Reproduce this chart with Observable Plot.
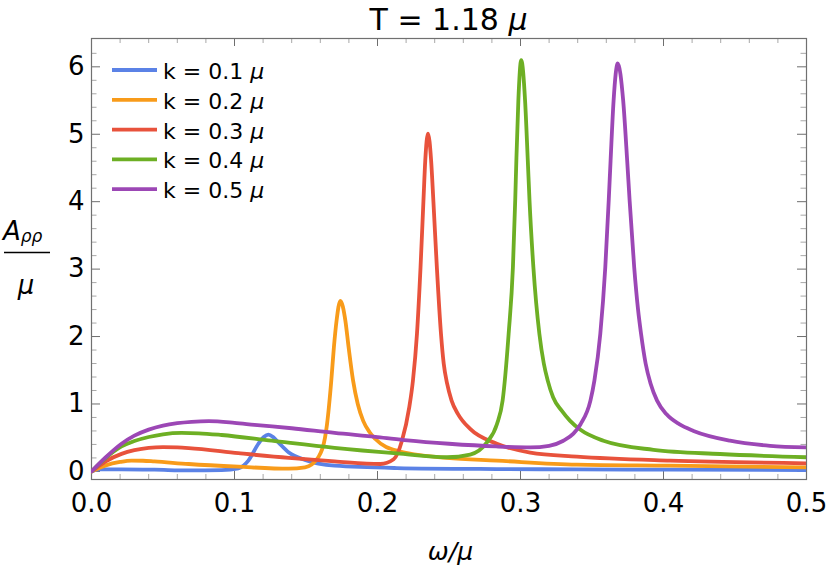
<!DOCTYPE html>
<html>
<head>
<meta charset="utf-8">
<script src="https://cdn.jsdelivr.net/npm/d3@7"></script>
<script src="https://cdn.jsdelivr.net/npm/@observablehq/plot@0.6"></script>
<style>
  html, body { margin: 0; padding: 0; background: #fff; }
  #chart { position: relative; width: 830px; height: 569px; }
  svg { font-family: "DejaVu Sans", sans-serif; }
</style>
</head>
<body>
<div id="chart"></div>
<script>
// ---- Data ----
const labels = ["k = 0.1", "k = 0.2", "k = 0.3", "k = 0.4", "k = 0.5"];
const colors = ["#5B82E6", "#F89B1A", "#E8523C", "#6DAF24", "#9C47B5"];

const k01 = [[0,0],[0.005,0.03],[0.021,0.03],[0.044,0.025],[0.068,0.015],[0.091,0.02],[0.1027,0.045],
  [0.1097,0.16],[0.1167,0.41],[0.1205,0.51],[0.1237,0.545],[0.127,0.51],[0.1307,0.43],[0.138,0.28],
  [0.1493,0.17],[0.17,0.085],[0.2136,0.05],[0.2835,0.035],[0.3394,0.03],[0.4046,0.025],[0.5,0.02]];

const k02 = [[0,0],[0.01,0.09],[0.02,0.14],[0.028,0.16],[0.036,0.158],[0.044,0.148],[0.068,0.11],
  [0.1027,0.07],[0.138,0.04],[0.1493,0.06],[0.1586,0.21],[0.1633,0.5],[0.1647,0.7],[0.1677,1.35],
  [0.1695,1.84],[0.1714,2.24],[0.174,2.53],[0.1775,2.24],[0.1798,1.84],[0.1829,1.35],[0.1862,1.0],
  [0.19,0.75],[0.1945,0.58],[0.1985,0.48],[0.2136,0.307],[0.2486,0.20],[0.2835,0.16],[0.3394,0.10],
  [0.4046,0.085],[0.5,0.06]];

const k03 = [[0,0],[0.01,0.15],[0.021,0.26],[0.03,0.315],[0.04,0.35],[0.05,0.36],[0.06,0.355],
  [0.068,0.345],[0.1027,0.27],[0.138,0.20],[0.17,0.15],[0.202,0.11],[0.2113,0.18],[0.2171,0.455],
  [0.2222,0.95],[0.2248,1.35],[0.2276,2.04],[0.2301,3.03],[0.2321,4.0],[0.2334,4.61],[0.2353,5.01],
  [0.2375,4.61],[0.2391,4.0],[0.2415,3.03],[0.2444,2.04],[0.2463,1.6],[0.2487,1.3],[0.2518,1.05],
  [0.2563,0.85],[0.2648,0.63],[0.2835,0.41],[0.3068,0.28],[0.3394,0.22],[0.4046,0.16],[0.5,0.12]];

const k04 = [[0,0],[0.01,0.2],[0.021,0.37],[0.03,0.45],[0.04,0.51],[0.05,0.55],[0.063,0.57],
  [0.075,0.565],[0.091,0.54],[0.126,0.455],[0.17,0.35],[0.2136,0.267],[0.2486,0.21],[0.2648,0.25],
  [0.2765,0.43],[0.2835,0.70],[0.2875,1.05],[0.2917,2.04],[0.2947,3.03],[0.2963,4.02],[0.2971,4.61],
  [0.2985,5.5],[0.3005,6.1],[0.3032,5.5],[0.3051,4.61],[0.3063,4.02],[0.309,3.03],[0.3132,2.04],
  [0.3163,1.6],[0.319,1.35],[0.3228,1.1],[0.3288,0.9],[0.3347,0.75],[0.3417,0.62],[0.358,0.455],
  [0.393,0.32],[0.4396,0.258],[0.5,0.21]];

const k05 = [[0,0],[0.01,0.21],[0.021,0.41],[0.03,0.53],[0.04,0.62],[0.05,0.68],[0.06,0.715],
  [0.07,0.735],[0.082,0.745],[0.1,0.72],[0.114,0.69],[0.14,0.64],[0.17,0.57],[0.2,0.51],[0.221,0.46],
  [0.25,0.41],[0.283,0.37],[0.307,0.356],[0.32,0.38],[0.330,0.455],[0.337,0.56],[0.342,0.70],
  [0.3489,1.05],[0.3517,1.35],[0.3558,2.04],[0.3593,3.03],[0.3617,4.02],[0.363,4.61],[0.3651,5.5],
  [0.368,6.05],[0.3718,5.5],[0.3746,4.61],[0.3763,4.02],[0.3795,3.03],[0.3822,2.4],[0.3843,2.04],
  [0.3875,1.6],[0.391,1.3],[0.3955,1.05],[0.402,0.85],[0.411,0.70],[0.421,0.60],[0.4465,0.455],
  [0.4745,0.38],[0.5,0.355]];

const seriesValues = [k01, k02, k03, k04, k05];

const xMajor = [0, 0.1, 0.2, 0.3, 0.4, 0.5];
const xMinor = [0.02,0.04,0.06,0.08,0.12,0.14,0.16,0.18,0.22,0.24,0.26,0.28,
                0.32,0.34,0.36,0.38,0.42,0.44,0.46,0.48];
const yMajor = [0, 1, 2, 3, 4, 5, 6];
const yMinor = [0.2,0.4,0.6,0.8,1.2,1.4,1.6,1.8,2.2,2.4,2.6,2.8,3.2,3.4,3.6,3.8,
                4.2,4.4,4.6,4.8,5.2,5.4,5.6,5.8,6.2];

// ---- Build table ----
const rows = seriesValues.flatMap((vals, i) => vals.map(([x, y]) => ({k: labels[i], x, y})));

const W = 830, H = 569;
const mL = 91, mR = 24, mT = 38, mB = 90;
const pw = W - mL - mR, ph = H - mT - mB;

const majorCol = "#6e6e6e", minorCol = "#a8a8a8";

const chart = Plot.plot({
  width: W, height: H,
  marginLeft: mL, marginRight: mR, marginTop: mT, marginBottom: mB,
  style: {fontFamily: "DejaVu Sans, sans-serif", fontSize: "26px", color: "#000", background: "#fff"},
  x: {domain: [0, 0.5], label: null},
  y: {domain: [-0.12, 6.42], label: null},
  color: {domain: labels, range: colors},
  marks: [
    // minor ticks (inward, all four sides)
    Plot.tickX(xMinor, {x: d => d, insetTop: ph - 5, stroke: minorCol}),
    Plot.tickX(xMinor, {x: d => d, insetBottom: ph - 5, stroke: minorCol}),
    Plot.tickY(yMinor, {y: d => d, insetRight: pw - 5.5, stroke: minorCol}),
    Plot.tickY(yMinor, {y: d => d, insetLeft: pw - 5.5, stroke: minorCol}),
    // major ticks
    Plot.tickX(xMajor, {x: d => d, insetTop: ph - 8, stroke: majorCol}),
    Plot.tickX(xMajor, {x: d => d, insetBottom: ph - 8, stroke: majorCol}),
    Plot.tickY(yMajor, {y: d => d, insetRight: pw - 9, stroke: majorCol}),
    Plot.tickY(yMajor, {y: d => d, insetLeft: pw - 9, stroke: majorCol}),
    Plot.frame({stroke: "#707070", strokeWidth: 1.2}),
    Plot.axisX({ticks: xMajor, tickSize: 0, tickPadding: 14, tickFormat: d3.format(".1f"), fontSize: 26}),
    Plot.axisY({ticks: yMajor, tickSize: 0, tickPadding: 7, tickFormat: d3.format("d"), fontSize: 26}),
    Plot.line(rows, {x: "x", y: "y", z: "k", stroke: "k", strokeWidth: 3.8, curve: "monotone-x", clip: true})
  ]
});

document.getElementById("chart").appendChild(chart);

// ---- Annotations (title, axis labels, legend) as real text ----
const svg = d3.select(chart);
const font = "DejaVu Sans, sans-serif";

const title = svg.append("text").attr("x", mL + pw / 2).attr("y", 30)
  .attr("text-anchor", "middle").attr("font-size", 30).attr("font-family", font).attr("fill", "#000");
title.append("tspan").text("T = 1.18 ");
title.append("tspan").attr("font-style", "italic").text("μ");

svg.append("text").attr("x", mL + pw / 2 + 2).attr("y", 560)
  .attr("text-anchor", "middle").attr("font-size", 25).attr("font-style", "italic")
  .attr("font-family", font).attr("fill", "#000").text("ω/μ");

// y label as fraction A_ρρ / μ
const yl = svg.append("text").attr("x", 3).attr("y", 240).attr("text-anchor", "start")
  .attr("font-family", font).attr("fill", "#000");
yl.append("tspan").attr("font-size", 26).attr("font-style", "italic").text("A");
yl.append("tspan").attr("font-size", 17).attr("font-style", "italic").attr("dy", 2).text("ρρ");
svg.append("line").attr("x1", 4).attr("x2", 50).attr("y1", 252.5).attr("y2", 252.5)
  .attr("stroke", "#000").attr("stroke-width", 1.6);
svg.append("text").attr("x", 26).attr("y", 294).attr("text-anchor", "middle")
  .attr("font-size", 26).attr("font-style", "italic").attr("font-family", font).attr("fill", "#000").text("μ");

// legend
const lg = svg.append("g");
labels.forEach((lab, i) => {
  const y = 70 + i * 29.8;
  lg.append("line").attr("x1", 112).attr("x2", 157).attr("y1", y).attr("y2", y)
    .attr("stroke", colors[i]).attr("stroke-width", 3.8);
  const t = lg.append("text").attr("x", 163).attr("y", y + 9).attr("font-size", 22)
    .attr("text-anchor", "start").attr("font-family", font).attr("fill", "#000");
  t.append("tspan").text(lab + " ");
  t.append("tspan").attr("font-style", "italic").text("μ");
});
</script>
</body>
</html>
